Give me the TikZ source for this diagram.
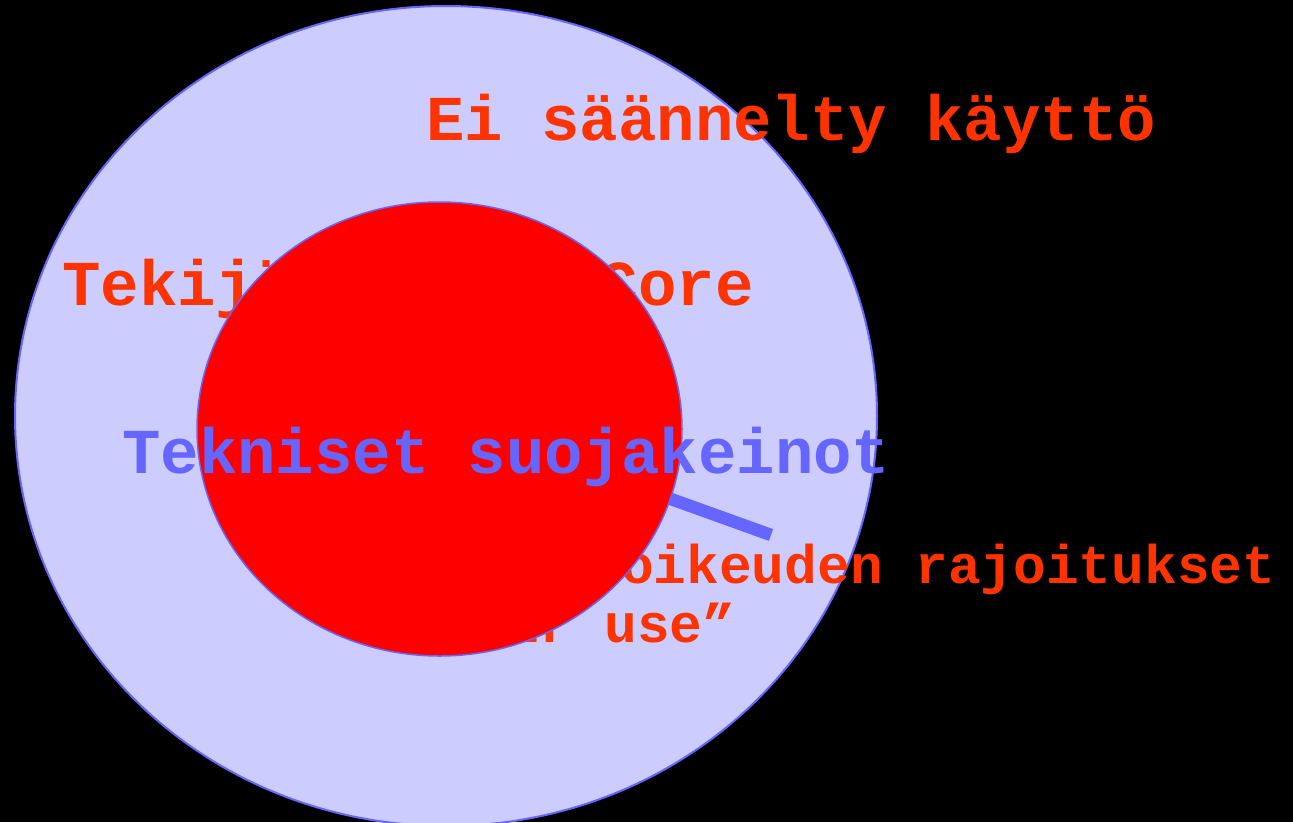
\documentclass[tikz,border=0pt]{standalone}
\usepackage{fontspec}
\setmonofont{Liberation Mono}
\usetikzlibrary{calc}
\definecolor{lav}{HTML}{CCCCFF}
\definecolor{edgeblue}{HTML}{6666FF}
\definecolor{hot}{HTML}{FF0000}
\definecolor{txtred}{HTML}{FF3300}
\tikzset{
  bigtxt/.style={anchor=base west, inner sep=0pt, text=txtred,
    font=\ttfamily\bfseries\fontsize{64}{70}\selectfont},
  smalltxt/.style={anchor=base west, inner sep=0pt, text=txtred, align=left,
    font=\ttfamily\bfseries\fontsize{54.5}{59}\selectfont},
  bluetxt/.style={bigtxt, text=edgeblue},
  ring/.style={fill=lav, draw=edgeblue, line width=2pt},
  core/.style={fill=hot, draw=edgeblue, line width=1.5pt},
  pointer/.style={draw=edgeblue, line width=12.5pt, line cap=butt}
}
\begin{document}
\begin{tikzpicture}[x=1pt,y=-1pt]
\useasboundingbox (0,0) rectangle (1293,822);
\fill[black] (0,0) rectangle (1293,822);
% outer region
\draw[ring] (446,416) ellipse [x radius=431pt, y radius=410pt];
\node[bigtxt] (eis) at (426,140) {Ei säännelty käyttö};
\node[bigtxt] (core) at (62,305) {Tekijänoikeus Core};
\node[smalltxt] (raj) at (392,642) {Tekijänoikeuden rajoitukset\\\hspace*{16pt}“fair use”};
% pointer line
\coordinate (pa) at (600,473.5);
\coordinate (pb) at (771,535);
\draw[pointer] (pa) -- (pb);
% inner red region
\draw[core] (439.5,429) ellipse [x radius=242.5pt, y radius=227pt];
\node[bluetxt] (tek) at (122,473) {Tekniset suojakeinot};
\end{tikzpicture}
\end{document}
